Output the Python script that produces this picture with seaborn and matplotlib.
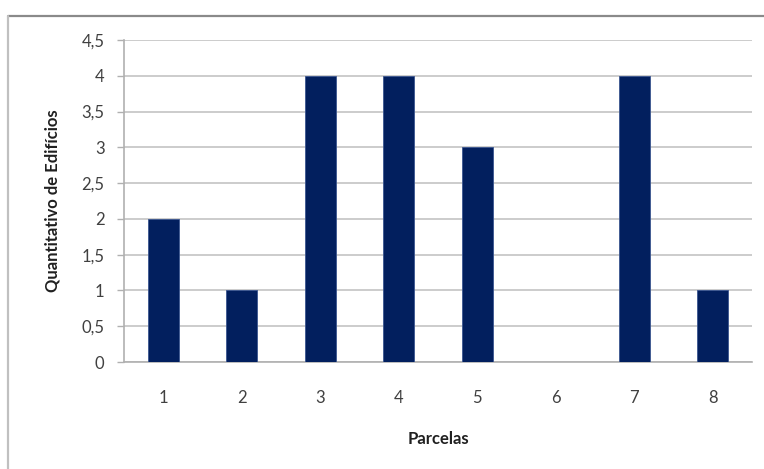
import matplotlib
matplotlib.use("Agg")
import matplotlib.pyplot as plt
from matplotlib.lines import Line2D
import seaborn as sns
import pandas as pd

parcelas = ["1", "2", "3", "4", "5", "6", "7", "8"]
edificios = [2, 1, 4, 4, 3, 0, 4, 1]
y_ticks = [0, 0.5, 1, 1.5, 2, 2.5, 3, 3.5, 4, 4.5]
y_tick_labels = ["0", "0,5", "1", "1,5", "2", "2,5", "3", "3,5", "4", "4,5"]

sns.set_theme(style="white")
plt.rcParams["font.family"] = ["Lato", "DejaVu Sans"]

df = pd.DataFrame({"Parcelas": parcelas, "Edificios": edificios})

fig = plt.figure(figsize=(7.64, 4.69), dpi=100)
ax = fig.add_axes([124 / 764, 1 - 362 / 469, (752 - 124) / 764, (362 - 40) / 469])

sns.barplot(data=df, x="Parcelas", y="Edificios", color="#021f5e",
            width=0.4, saturation=1, ax=ax, zorder=3,
            edgecolor="#3a5590", linewidth=0.6)

ax.set_xlim(-0.5, len(parcelas) - 0.5)
ax.set_ylim(0, 4.5)
ax.set_yticks(y_ticks)
ax.set_yticklabels(y_tick_labels)
ax.yaxis.grid(True, color="#c4c4c4", linewidth=1.2, zorder=0)
ax.set_axisbelow(True)

for s in ["top", "right"]:
    ax.spines[s].set_visible(False)
for s in ["left", "bottom"]:
    ax.spines[s].set_color("#b0b0b0")
    ax.spines[s].set_linewidth(1.2)

# category separators on the x axis
ax.set_xticks([i - 0.5 for i in range(len(parcelas) + 1)], minor=True)
ax.tick_params(axis="x", which="minor", length=5, color="#b0b0b0", width=1, direction="out")
ax.tick_params(axis="x", which="major", length=0, pad=20, labelsize=12, labelcolor="#404040")
ax.tick_params(axis="y", which="major", length=5, color="#b0b0b0", width=1, direction="out",
               pad=9, labelsize=12, labelcolor="#404040")
ax.tick_params(left=True, bottom=True)

ax.set_xlabel("Parcelas", fontsize=12, fontweight="bold", color="#202020", labelpad=18)
ax.set_ylabel("Quantitativo de Edifícios", fontsize=12, fontweight="bold", color="#202020", labelpad=15)

# chart-area frame
fig.add_artist(Line2D([8 / 764, 1], [1 - 16 / 469, 1 - 16 / 469], transform=fig.transFigure,
                      color="#8a8a8a", linewidth=1.6))
fig.add_artist(Line2D([8 / 764, 8 / 764], [0, 1 - 16 / 469], transform=fig.transFigure,
                      color="#c0c0c0", linewidth=1.6))

fig.savefig("out.png", dpi=100)
